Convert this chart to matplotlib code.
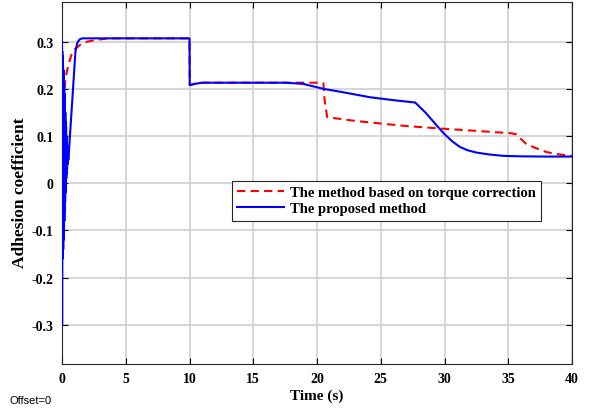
import matplotlib
matplotlib.use("Agg")
import matplotlib.pyplot as plt

# Proposed method (blue)
t_blue = [0, 0.01, 0.02, 0.035, 0.05, 0.065, 0.08, 0.095, 0.11, 0.125, 0.14, 0.155, 0.17,
          0.185, 0.2, 0.215, 0.23, 0.245, 0.26, 0.275, 0.29, 0.305, 0.32, 0.335, 0.35,
          0.365, 0.38, 0.395, 0.41, 0.43, 0.45, 0.50, 0.60, 0.75, 0.9, 1.05, 1.2, 1.4,
          1.6, 1.8, 2.2,
          10.0, 10.02, 10.5, 11, 17.5, 18.9, 20.5, 22, 24.2, 26, 27.7, 28.5, 29.4,
          30.0, 30.6, 31.2, 31.8, 32.5, 33.5, 34.6, 36, 38, 40]
v_blue = [0.30, -0.30, 0.28, -0.16, 0.27, -0.15, 0.25, -0.14, 0.24, -0.12, 0.22, -0.10, 0.21,
          -0.08, 0.19, -0.06, 0.17, -0.04, 0.15, -0.02, 0.13, 0.0, 0.12, 0.01, 0.10,
          0.02, 0.09, 0.03, 0.08, 0.04, 0.07, 0.05, 0.09, 0.153, 0.215, 0.278, 0.298, 0.305,
          0.307, 0.307, 0.307,
          0.307, 0.208, 0.211, 0.213, 0.213, 0.2106, 0.200, 0.193, 0.182, 0.176, 0.171, 0.150, 0.122,
          0.104, 0.089, 0.077, 0.070, 0.065, 0.061, 0.058, 0.057, 0.0565, 0.0565]

# Method based on torque correction (red dashed)
t_red = [0.1, 0.15, 0.25, 0.37, 0.5, 0.76, 1.0, 1.5, 2.0, 2.5, 3.1, 3.6, 10.0, 10.02,
         10.5, 11, 20.1, 20.5, 20.6, 20.8, 23, 26.7, 28.1, 30.2, 33, 35.2, 35.6, 36.4,
         37.2, 38, 39, 40]
v_red = [0.20, 0.186, 0.215, 0.235, 0.250, 0.274, 0.284, 0.295, 0.300, 0.303, 0.305, 0.307, 0.307, 0.208,
         0.211, 0.213, 0.213, 0.212, 0.175, 0.140, 0.132, 0.122, 0.119, 0.115, 0.110, 0.106, 0.104, 0.0835,
         0.074, 0.066, 0.061, 0.058]

x_ticks = [0, 5, 10, 15, 20, 25, 30, 35, 40]
y_ticks = [-0.3, -0.2, -0.1, 0, 0.1, 0.2, 0.3]
y_tick_labels = ["-0.3", "-0.2", "-0.1", "0", "0.1", "0.2", "0.3"]

serif = ["Liberation Serif", "DejaVu Serif"]

fig = plt.figure(figsize=(5.9, 4.14), dpi=100)
ax = fig.add_axes([62/590, 1 - 365/414, 510/590, 362/414])

ax.plot(t_red, v_red, color="#ff0000", lw=1.5, linestyle=(0, (4, 2.5)), zorder=3,
        label="The method based on torque correction")
ax.plot(t_blue, v_blue, color="#0000ff", lw=1.5, zorder=4, label="The proposed method")

ax.set_xlim(0, 40)
ax.set_ylim(-0.383, 0.384)
ax.set_xticks(x_ticks)
ax.set_xticklabels([str(v) for v in x_ticks])
ax.set_yticks(y_ticks)
ax.set_yticklabels(y_tick_labels)
ax.grid(True, color="#cfcfcf", lw=1.2)
ax.set_axisbelow(True)
ax.tick_params(direction="in", top=True, right=True, length=4, width=0.8, labelsize=10, pad=6)
for lab in ax.get_xticklabels() + ax.get_yticklabels():
    lab.set_fontfamily(serif)
    lab.set_fontweight("bold")
for s in ax.spines.values():
    s.set_color("#262626")
    s.set_linewidth(0.8)

ax.set_xlabel("Time (s)", fontfamily=serif, fontweight="bold", fontsize=11, labelpad=2)
ax.set_ylabel("Adhesion coefficient", fontfamily=serif, fontweight="bold", fontsize=12.5)
ax.yaxis.set_label_coords(-0.066, 0.475)

leg = ax.legend(loc="upper left", bbox_to_anchor=((232 - 62) / 510, (365 - 182) / 362),
                prop={"family": serif, "weight": "bold", "size": 10.5},
                frameon=True, fancybox=False, framealpha=1, edgecolor="#262626",
                borderpad=0.35, labelspacing=0.2, handlelength=3.2, handletextpad=0.4,
                borderaxespad=0)
leg.get_frame().set_linewidth(0.8)

fig.text(10/590, 1 - 401/414, "Offset=0", fontfamily=["Liberation Sans", "DejaVu Sans"],
         fontsize=8, va="center", ha="left")

fig.savefig("out.png", dpi=100)
